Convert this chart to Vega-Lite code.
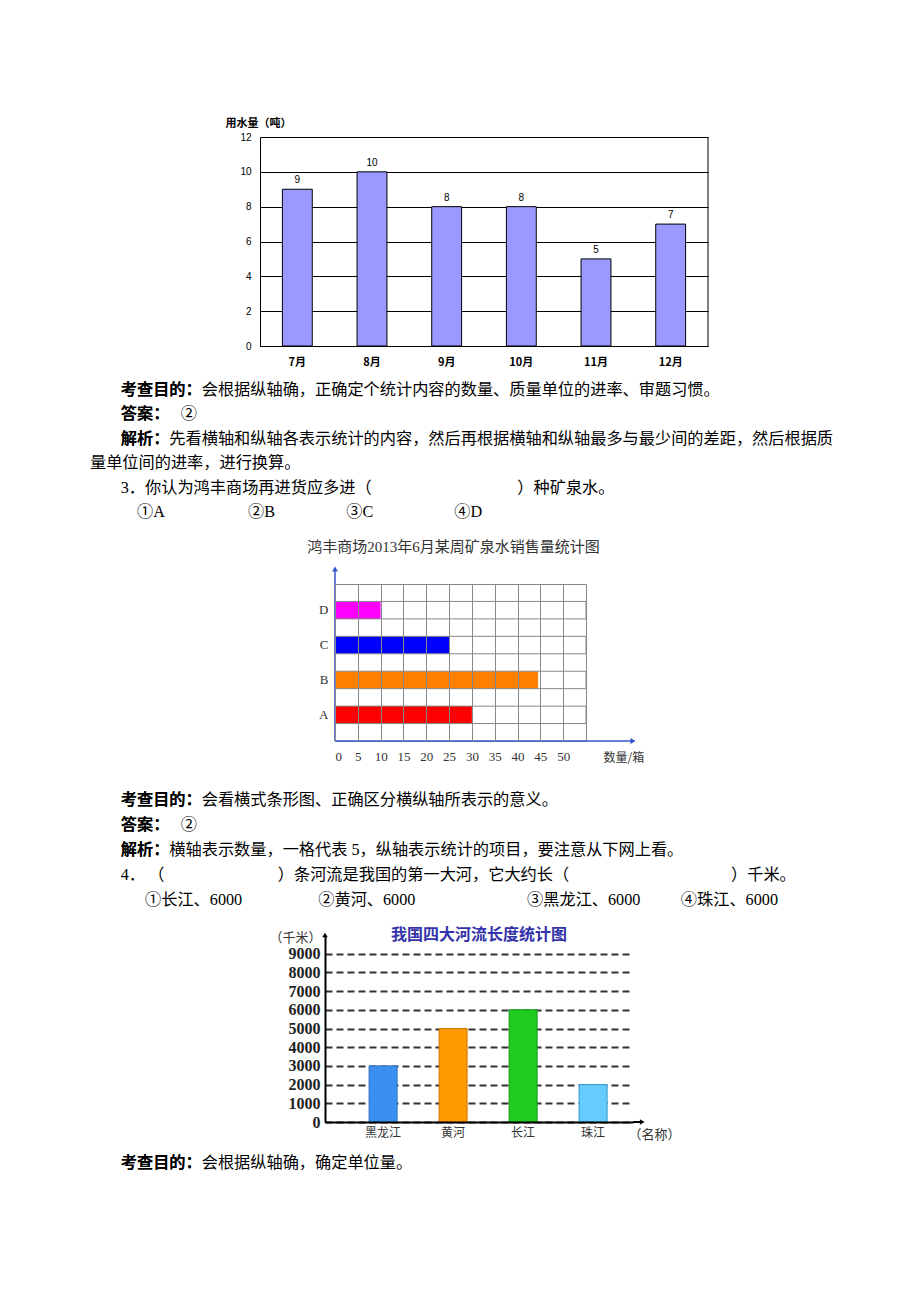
{
  "$schema": "https://vega.github.io/schema/vega-lite/v6.json",
  "padding": 0,
  "background": "white",
  "spacing": 0,
  "bounds": "flush",
  "columns": 5,
  "align": "each",
  "resolve": {"scale": {"color": "independent", "stroke": "independent"}},
  "config": {"view": {"stroke": null}, "font": "Liberation Sans"},
  "concat": [
    {"width": 90, "height": 137, "mark": "point", "data": {"values": []}},
    {"width": 170, "height": 137, "mark": "point", "data": {"values": []}},
    {"width": 65, "height": 137, "mark": "point", "data": {"values": []}},
    {"width": 10, "height": 137, "mark": "point", "data": {"values": []}},
    {"width": 585, "height": 137, "mark": "point", "data": {"values": []}},

    {"width": 1, "height": 1, "mark": "point", "data": {"values": []}},
    {"width": 1, "height": 1, "mark": "point", "data": {"values": []}},
    {
      "width": 1, "height": 209,
      "data": {"values": [
        {"month": "7月", "usage": 9}, {"month": "8月", "usage": 10}, {"month": "9月", "usage": 8},
        {"month": "10月", "usage": 8}, {"month": "11月", "usage": 5}, {"month": "12月", "usage": 7}
      ]},
      "encoding": {
        "y": {"field": "usage", "type": "quantitative", "scale": {"domain": [0, 12], "nice": false},
          "axis": {"values": [0, 2, 4, 6, 8, 10, 12], "title": "用水量（吨）", "titleAngle": 0, "titleAlign": "left", "titleBaseline": "middle", "titleX": -35, "titleY": -14, "titleFont": "Noto Sans CJK SC", "titleFontSize": 11, "titleFontWeight": "bold", "titleColor": "#000", "grid": true, "gridColor": "#000", "gridOpacity": 1, "tickSize": 0, "labelPadding": 9, "labelFontSize": 10, "labelColor": "#000", "domainColor": "#000"}}
      },
      "resolve": {"scale": {"x": "independent"}, "axis": {"x": "independent"}},
      "layer": [
        {"mark": {"type": "bar", "fill": "#9999ff", "stroke": "#000", "strokeWidth": 1},
          "encoding": {
            "x": {"field": "month", "type": "nominal", "sort": null,
              "scale": {"paddingInner": 0.6, "paddingOuter": 0.3, "range": [0, 448]},
              "axis": {"title": null, "labelAngle": 0, "tickSize": 0, "domainColor": "#000", "labelPadding": 10, "labelFont": "Noto Sans CJK SC", "labelFontWeight": "bold", "labelFontSize": 11, "labelColor": "#000"}}
          }},
        {"mark": {"type": "text", "baseline": "bottom", "dy": -4, "fontSize": 10, "font": "Liberation Sans", "color": "#000"},
          "encoding": {
            "x": {"field": "month", "type": "nominal", "sort": null, "scale": {"paddingInner": 0.6, "paddingOuter": 0.3, "range": [0, 448]}, "axis": null},
            "text": {"field": "usage"}
          }},
        {"data": {"values": [{}]}, "mark": {"type": "rule", "color": "#000", "strokeWidth": 1},
          "encoding": {
            "x": {"datum": 1, "type": "quantitative", "scale": {"domain": [0, 1], "range": [0, 448]}, "axis": null},
            "y": {"value": 0},
            "y2": {"value": "height"}
          }}
      ]
    },
    {"width": 1, "height": 1, "mark": "point", "data": {"values": []}},
    {"width": 1, "height": 1, "mark": "point", "data": {"values": []}},

    {"width": 1, "height": 1, "mark": "point", "data": {"values": []}},
    {
      "width": 1, "height": 238,
      "data": {"values": [
        {"line": 1, "text": "\u200b\u3000\u2002\u2009\u2009考查目的：会根据纵轴确，正确定个统计内容的数量、质量单位的进率、审题习惯。", "lead": "\u200b\u3000\u2002\u2009\u2009考查目的："},
        {"line": 2, "text": "\u200b\u3000\u2002\u2009\u2009答案：\u3000\u2009②", "lead": "\u200b\u3000\u2002\u2009\u2009答案："},
        {"line": 3, "text": "\u200b\u3000\u2002\u2009\u2009解析：先看横轴和纵轴各表示统计的内容，然后再根据横轴和纵轴最多与最少间的差距，然后根据质", "lead": "\u200b\u3000\u2002\u2009\u2009解析："},
        {"line": 4, "text": "量单位间的进率，进行换算。", "lead": ""},
        {"line": 5, "text": "\u200b\u3000\u2002\u2009\u20093．你认为鸿丰商场再进货应多进（\u3000\u3000\u3000\u3000\u3000\u3000\u3000\u3000\u3000）种矿泉水。", "lead": ""},
        {"line": 6, "text": "\u200b\u3000\u3000\u2002\u2009\u2009①A\u3000\u3000\u3000\u3000\u3000\u2009②B\u3000\u3000\u3000\u3000\u2009\u2009③C\u3000\u3000\u3000\u3000\u3000④D", "lead": ""}
      ]},
      "encoding": {
        "y": {"field": "line", "type": "quantitative", "scale": {"domain": [-0.803, 8.951], "reverse": true, "nice": false, "zero": false}, "axis": null},
        "x": {"value": 0}
      },
      "layer": [
        {"mark": {"type": "text", "align": "left", "baseline": "middle", "fontSize": 16.2, "font": "Liberation Serif, Noto Sans CJK SC", "color": "#000"}, "encoding": {"text": {"field": "text"}}},
        {"mark": {"type": "text", "align": "left", "baseline": "middle", "fontSize": 16.2, "font": "Noto Sans CJK SC", "fontWeight": "bold", "color": "#000"}, "encoding": {"text": {"field": "lead"}}}
      ]
    },
    {"width": 1, "height": 1, "mark": "point", "data": {"values": []}},
    {"width": 1, "height": 1, "mark": "point", "data": {"values": []}},
    {"width": 1, "height": 1, "mark": "point", "data": {"values": []}},

    {"width": 1, "height": 1, "mark": "point", "data": {"values": []}},
    {"width": 1, "height": 1, "mark": "point", "data": {"values": []}},
    {"width": 1, "height": 1, "mark": "point", "data": {"values": []}},
    {"width": 1, "height": 1, "mark": "point", "data": {"values": []}},
    {
      "width": 251, "height": 157,
      "view": {"stroke": "#888"},
      "title": {"text": "鸿丰商场2013年6月某周矿泉水销售量统计图", "font": "Liberation Serif, Noto Sans CJK SC", "fontSize": 15, "fontWeight": "normal", "color": "#333", "offset": 11, "dx": -7, "anchor": "middle"},
      "data": {"values": [
        {"item": "A", "count": 30}, {"item": "B", "count": 44.5}, {"item": "C", "count": 25}, {"item": "D", "count": 10}
      ]},
      "encoding": {
        "y": {"field": "item", "type": "nominal", "scale": {"domain": ["D", "C", "B", "A"], "paddingInner": 0.5, "paddingOuter": 0.5},
          "axis": {"title": null, "tickSize": 0, "domain": false, "labelPadding": 7, "labelFont": "Liberation Serif", "labelFontSize": 13, "labelColor": "#333"}}
      },
      "layer": [
        {"mark": {"type": "bar", "strokeWidth": 0},
          "encoding": {
            "x": {"field": "count", "type": "quantitative", "scale": {"domain": [0, 55], "nice": false},
              "axis": {"title": "数量/箱", "values": [0, 5, 10, 15, 20, 25, 30, 35, 40, 45, 50], "labelOverlap": false, "grid": true, "gridColor": "#888", "gridOpacity": 1, "zindex": 1, "tickSize": 0, "domain": false, "labelPadding": 9, "labelFont": "Liberation Serif", "labelFontSize": 13, "labelColor": "#333", "titleFont": "Noto Sans CJK SC", "titleFontSize": 12, "titleFontWeight": "normal", "titleColor": "#333", "titleX": 268, "titleY": 16, "titleAlign": "left", "titleBaseline": "middle"}},
            "color": {"field": "item", "type": "nominal", "scale": {"domain": ["A", "B", "C", "D"], "range": ["#ff0000", "#ff8000", "#0000ff", "#ff00ff"]}, "legend": null}
          }},
        {"mark": {"type": "rect", "filled": false, "color": "#888", "strokeWidth": 1},
          "encoding": {"x": {"value": 0}, "x2": {"value": "width"}}},
        {"data": {"values": [{}]}, "mark": {"type": "rule", "color": "#3355cc", "strokeWidth": 1.5, "y2Offset": -16},
          "encoding": {"x": {"value": 0}, "y": {"value": "height"}, "y2": {"value": 0}}},
        {"data": {"values": [{}]}, "mark": {"type": "rule", "color": "#3355cc", "strokeWidth": 1.5, "x2Offset": 47},
          "encoding": {"x": {"value": 0}, "x2": {"value": "width"}, "y": {"value": "height"}}},
        {"data": {"values": [{}]}, "mark": {"type": "point", "shape": "triangle-up", "filled": true, "color": "#3355cc", "size": 35, "opacity": 1, "yOffset": -15},
          "encoding": {"x": {"value": 0}, "y": {"value": 0}}},
        {"data": {"values": [{}]}, "mark": {"type": "point", "shape": "triangle-right", "filled": true, "color": "#3355cc", "size": 35, "opacity": 1, "xOffset": 47},
          "encoding": {"x": {"value": "width"}, "y": {"value": "height"}}}
      ]
    },

    {"width": 1, "height": 1, "mark": "point", "data": {"values": []}},
    {
      "width": 1, "height": 194,
      "data": {"values": [
        {"line": 1, "text": "\u200b\u3000\u2002\u2009\u2009考查目的：会看横式条形图、正确区分横纵轴所表示的意义。", "lead": "\u200b\u3000\u2002\u2009\u2009考查目的："},
        {"line": 2, "text": "\u200b\u3000\u2002\u2009\u2009答案：\u3000\u2009②", "lead": "\u200b\u3000\u2002\u2009\u2009答案："},
        {"line": 3, "text": "\u200b\u3000\u2002\u2009\u2009解析：横轴表示数量，一格代表 5，纵轴表示统计的项目，要注意从下网上看。", "lead": "\u200b\u3000\u2002\u2009\u2009解析："},
        {"line": 4, "text": "\u200b\u3000\u2002\u2009\u20094．\u2009（\u3000\u3000\u3000\u3000\u3000\u3000\u3000）条河流是我国的第一大河，它大约长（\u3000\u3000\u3000\u3000\u3000\u3000\u3000\u3000\u3000\u3000）千米。", "lead": ""},
        {"line": 5, "text": "\u200b\u3000\u3000\u3000\u2009\u2009①长江、6000\u3000\u3000\u3000\u3000\u2002\u2009②黄河、6000\u3000\u3000\u3000\u3000\u3000\u3000\u2002\u2009\u2009③黑龙江、6000\u3000\u3000\u2002④珠江、6000", "lead": ""}
      ]},
      "encoding": {
        "y": {"field": "line", "type": "quantitative", "scale": {"domain": [-1.36, 6.4], "reverse": true, "nice": false, "zero": false}, "axis": null},
        "x": {"value": 0}
      },
      "layer": [
        {"mark": {"type": "text", "align": "left", "baseline": "middle", "fontSize": 16.2, "font": "Liberation Serif, Noto Sans CJK SC", "color": "#000"}, "encoding": {"text": {"field": "text"}}},
        {"mark": {"type": "text", "align": "left", "baseline": "middle", "fontSize": 16.2, "font": "Noto Sans CJK SC", "fontWeight": "bold", "color": "#000"}, "encoding": {"text": {"field": "lead"}}}
      ]
    },
    {"width": 1, "height": 1, "mark": "point", "data": {"values": []}},
    {"width": 1, "height": 1, "mark": "point", "data": {"values": []}},
    {"width": 1, "height": 1, "mark": "point", "data": {"values": []}},

    {"width": 1, "height": 1, "mark": "point", "data": {"values": []}},
    {"width": 1, "height": 1, "mark": "point", "data": {"values": []}},
    {"width": 1, "height": 1, "mark": "point", "data": {"values": []}},
    {
      "width": 1, "height": 187,
      "title": {"text": "我国四大河流长度统计图", "color": "#3333aa", "fontSize": 16, "fontWeight": "bold", "font": "Noto Sans CJK SC", "offset": -12, "anchor": "middle", "dx": 153.5},
      "data": {"values": [
        {"river": "黑龙江", "length": 3000}, {"river": "黄河", "length": 5000}, {"river": "长江", "length": 6000}, {"river": "珠江", "length": 2000}
      ]},
      "resolve": {"scale": {"x": "independent"}, "axis": {"x": "independent"}},
      "layer": [
        {"mark": {"type": "bar", "strokeWidth": 1},
          "encoding": {
            "x": {"field": "river", "type": "nominal", "sort": null,
              "scale": {"paddingInner": 0.6, "paddingOuter": 0.5, "align": 0.63, "range": [0, 308]},
              "axis": {"title": "（名称）", "labelAngle": 0, "tickSize": 0, "domainColor": "#000", "domainWidth": 2, "labelPadding": 5, "labelFont": "Noto Sans CJK SC", "labelFontSize": 12, "labelColor": "#333", "titleFont": "Noto Sans CJK SC", "titleFontSize": 13, "titleFontWeight": "normal", "titleColor": "#333", "titleX": 303, "titleY": 12, "titleAlign": "left", "titleBaseline": "middle", "zindex": 1}},
            "y": {"field": "length", "type": "quantitative", "scale": {"domain": [0, 10000], "nice": false},
              "axis": {"values": [0, 1000, 2000, 3000, 4000, 5000, 6000, 7000, 8000, 9000], "format": "d", "labelOverlap": false, "title": "（千米）", "titleAngle": 0, "titleX": -56, "titleY": 2, "titleAlign": "left", "titleBaseline": "middle", "titleFont": "Noto Sans CJK SC", "titleFontSize": 13, "titleFontWeight": "normal", "titleColor": "#333", "grid": true, "gridColor": "#333", "gridOpacity": 1, "gridWidth": 2, "gridDash": [7, 4], "tickSize": 0, "domainColor": "#000", "domainWidth": 2, "labelPadding": 5, "labelFont": "Liberation Serif", "labelFontWeight": "bold", "labelFontSize": 16, "labelColor": "#222"}},
            "color": {"field": "river", "type": "nominal", "scale": {"domain": ["黑龙江", "黄河", "长江", "珠江"], "range": ["#3a8ff0", "#ff9900", "#1fcc1f", "#66ccff"]}, "legend": null},
            "stroke": {"field": "river", "type": "nominal", "scale": {"domain": ["黑龙江", "黄河", "长江", "珠江"], "range": ["#2a6fc0", "#cc7700", "#119911", "#3399cc"]}, "legend": null}
          }},
        {"data": {"values": [{}]}, "mark": {"type": "rule", "color": "#000", "strokeWidth": 2},
          "encoding": {
            "x": {"datum": 1, "type": "quantitative", "scale": {"domain": [0, 1], "range": [0, 308]}, "axis": null},
            "x2": {"datum": 1.03},
            "y": {"value": "height"}
          }},
        {"data": {"values": [{}]}, "mark": {"type": "point", "shape": "triangle-right", "filled": true, "color": "#000", "size": 30, "opacity": 1},
          "encoding": {
            "x": {"datum": 1.03, "type": "quantitative", "scale": {"domain": [0, 1], "range": [0, 308]}, "axis": null},
            "y": {"value": "height"}
          }},
        {"data": {"values": [{}]}, "mark": {"type": "point", "shape": "triangle-up", "filled": true, "color": "#000", "size": 30, "opacity": 1},
          "encoding": {"x": {"value": 0}, "y": {"value": 0}}}
      ]
    },
    {"width": 1, "height": 1, "mark": "point", "data": {"values": []}},

    {"width": 1, "height": 1, "mark": "point", "data": {"values": []}},
    {
      "width": 1, "height": 60,
      "data": {"values": [
        {"line": 1, "text": "\u200b\u3000\u2002\u2009\u2009考查目的：会根据纵轴确，确定单位量。", "lead": "\u200b\u3000\u2002\u2009\u2009考查目的："}
      ]},
      "encoding": {
        "y": {"field": "line", "type": "quantitative", "scale": {"domain": [-0.708, 1.792], "reverse": true, "nice": false, "zero": false}, "axis": null},
        "x": {"value": 0}
      },
      "layer": [
        {"mark": {"type": "text", "align": "left", "baseline": "middle", "fontSize": 16.2, "font": "Liberation Serif, Noto Sans CJK SC", "color": "#000"}, "encoding": {"text": {"field": "text"}}},
        {"mark": {"type": "text", "align": "left", "baseline": "middle", "fontSize": 16.2, "font": "Noto Sans CJK SC", "fontWeight": "bold", "color": "#000"}, "encoding": {"text": {"field": "lead"}}}
      ]
    },
    {"width": 1, "height": 1, "mark": "point", "data": {"values": []}},
    {"width": 1, "height": 1, "mark": "point", "data": {"values": []}},
    {"width": 1, "height": 1, "mark": "point", "data": {"values": []}},

    {"width": 1, "height": 120, "mark": "point", "data": {"values": []}},
    {"width": 1, "height": 1, "mark": "point", "data": {"values": []}},
    {"width": 1, "height": 1, "mark": "point", "data": {"values": []}},
    {"width": 1, "height": 1, "mark": "point", "data": {"values": []}},
    {"width": 1, "height": 1, "mark": "point", "data": {"values": []}}
  ]
}
